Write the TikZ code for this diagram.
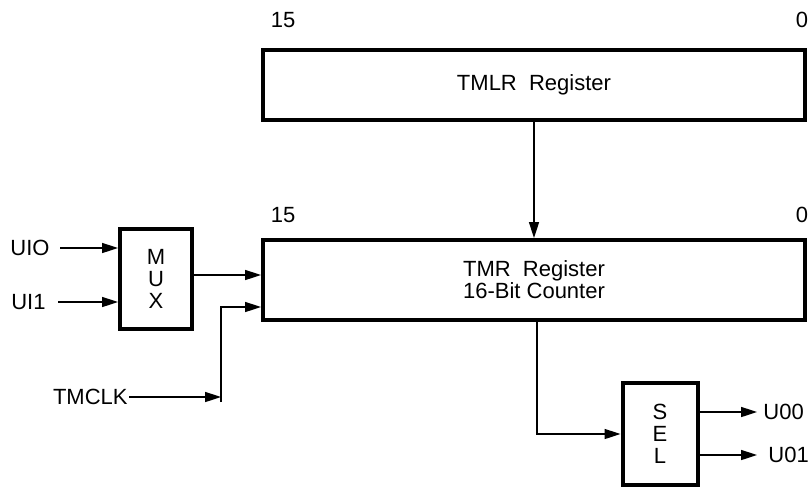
\documentclass[tikz,border=0pt]{standalone}
\usepackage{fontspec}
\setmainfont{Liberation Sans}
\usetikzlibrary{arrows.meta}

\begin{document}
\begin{tikzpicture}[x=0.5pt, y=-0.5pt, >={Triangle[length=8pt,width=5pt]},
    font=\fontsize{11}{11}\selectfont,
    % Define the style for the boxes
    reg box/.style={draw, line width=2pt, minimum width=271pt, inner sep=0pt, align=center},
    small box/.style={draw, line width=2pt, inner sep=0pt, align=center},
    signal/.style={inner sep=3pt},
    bit/.style={inner sep=0pt},
    % Define the style for the connecting lines
    connection/.style={->, line width=0.8pt}
]
\useasboundingbox (0,0) rectangle (808,487);

% Registers
\node[reg box, minimum height=35pt] (tmlr) at (534,85) {TMLR\ \ Register};
\node[reg box, minimum height=40pt] (tmr) at (534,280) {TMR\ \ Register\\16-Bit Counter};

% Bit numbers above the registers
\node[bit] (tmlr-15) at (283,20) {15};
\node[bit] (tmlr-0) at (802,20) {0};
\node[bit] (tmr-15) at (283,215) {15};
\node[bit] (tmr-0) at (802,215) {0};

% Multiplexer and selector
\node[small box, minimum width=36pt, minimum height=50pt] (mux) at (156,279) {M\\U\\X};
\node[small box, minimum width=37.5pt, minimum height=51pt] (sel) at (660,434) {S\\E\\L};

% Inputs and outputs
\node[signal, inner xsep=5pt, anchor=east] (uio) at (60,248) {UIO};
\node[signal, inner xsep=6pt, anchor=east] (ui1) at (58,302) {UI1};
\node[inner sep=0.5pt, anchor=east] (tmclk) at (129,397) {TMCLK};
\coordinate (clk) at (221,397);
\coordinate (clk-end) at (221,402);
\node[signal, anchor=west] (u00) at (757,412) {U00};
\node[signal, anchor=west] (u01) at (762,455) {U01};

% Connections
\draw[connection] (uio) -- (uio -| mux.west);
\draw[connection] (ui1) -- (ui1 -| mux.west);
\draw[connection] ([yshift=2pt]mux.east) -- ([yshift=2pt]mux.east -| tmr.west);
\draw[connection] (tmclk) -- (clk);
\draw[connection] (clk-end) |- ([yshift=-13.5pt]tmr.west);
\draw[connection] (tmlr.south) -- (tmr.north);
\draw[connection] ([xshift=1.5pt]tmr.south) |- (sel.west);
\draw[connection] (sel.east |- u00) -- (u00);
\draw[connection] (sel.east |- u01) -- ([xshift=-2.5pt]u01.west);

\end{tikzpicture}
\end{document}
